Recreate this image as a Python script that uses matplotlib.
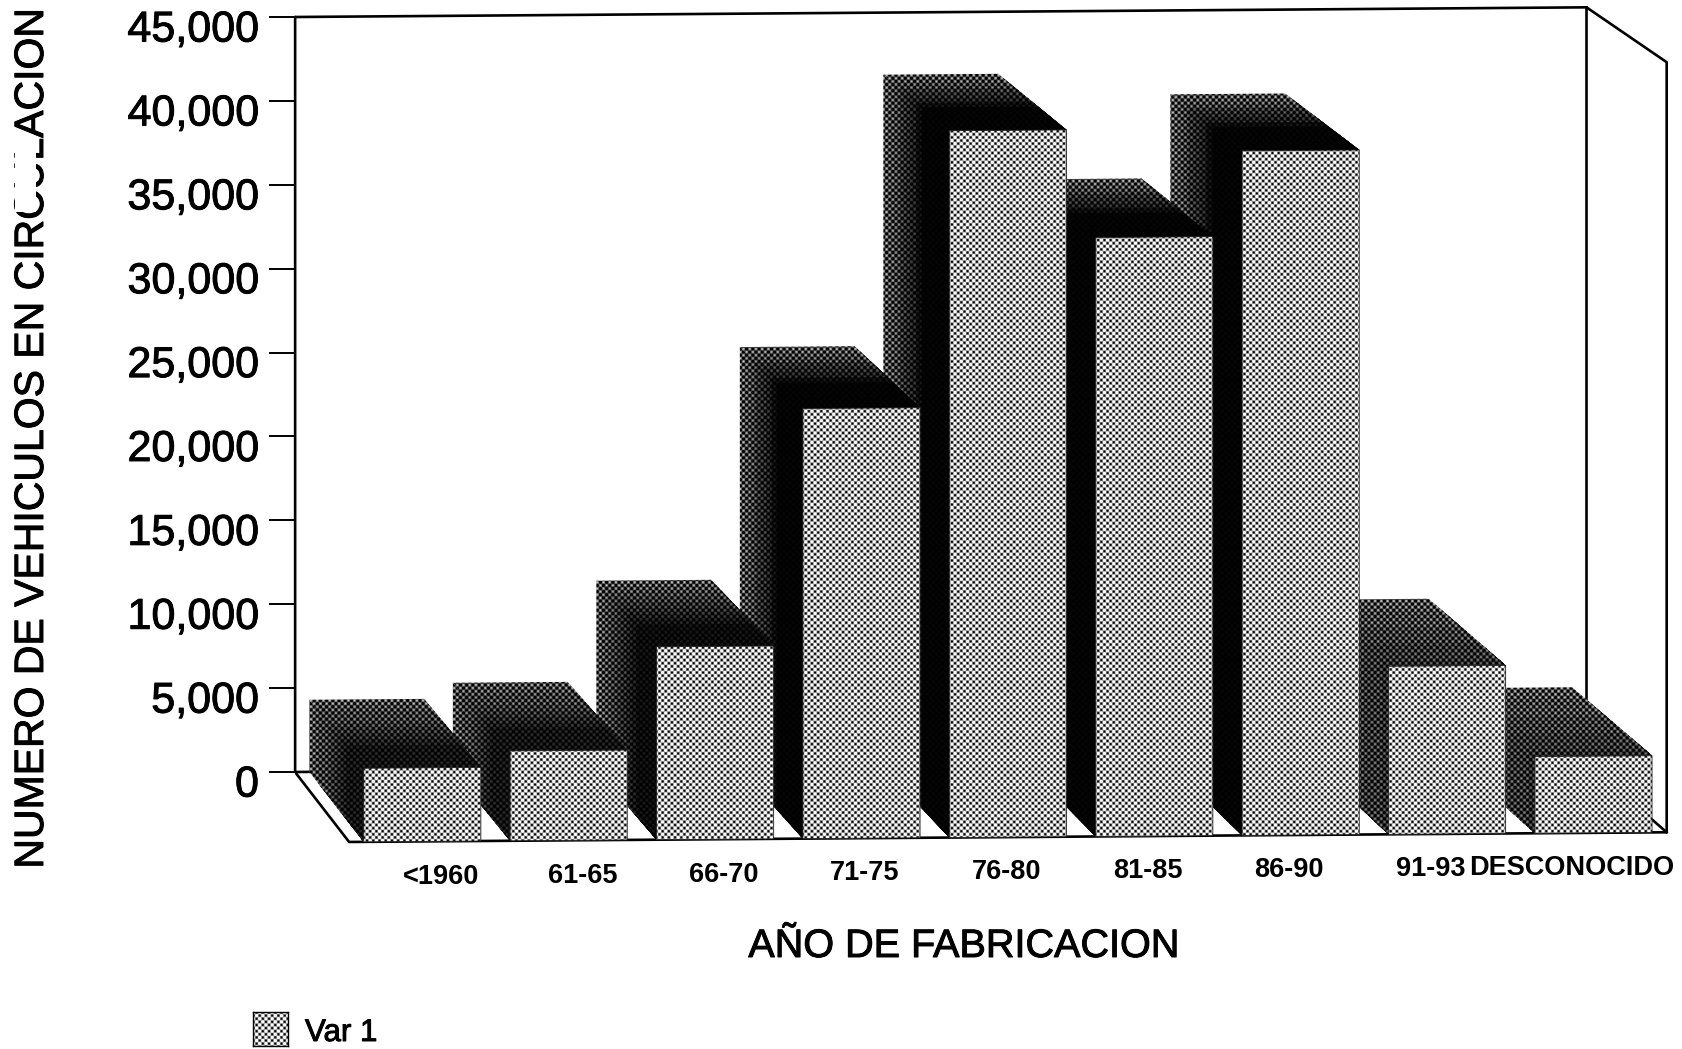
import numpy as np
import matplotlib
matplotlib.use('Agg')
import matplotlib.pyplot as plt
from matplotlib.patches import Polygon, Rectangle
from matplotlib.ticker import StrMethodFormatter
from matplotlib.transforms import ScaledTranslation
import matplotlib.patheffects as pe

# data
categories = ['<1960', '61-65', '66-70', '71-75', '76-80', '81-85', '86-90', '91-93', 'DESCONOCIDO']
vehicles = [4300, 5250, 11270, 25130, 41300, 35000, 40000, 9820, 4480]
y_ticks = [0, 5000, 10000, 15000, 20000, 25000, 30000, 35000, 40000, 45000]
y_label = 'NUMERO DE VEHICULOS EN CIRCULACION'
x_label = 'AÑO DE FABRICACION'
series_name = 'Var 1'

W, H = 1682, 1049
plt.rcParams['font.family'] = ['Liberation Sans', 'DejaVu Sans']

# fake 3d box, in pixels of the figure
wall_left = 295
zero_px = 772
top_px = 17
cat_px = 143.5
bottom_px = 900
units_per_px = 45000 / (zero_px - top_px)

# scanned text looks thicker than the plain font
thick = [pe.withStroke(linewidth=0.7, foreground='black')]

fig = plt.figure(figsize=(W / 100, H / 100), dpi=100, facecolor='white')
ax = fig.add_axes([wall_left / W, 1 - bottom_px / H, 1 - wall_left / W, bottom_px / H])
ax.set_xlim(0, (W - wall_left) / cat_px)
ax.set_ylim((zero_px - bottom_px) * units_per_px, zero_px * units_per_px)
ax.set_facecolor('white')


def proj(c, v, d):
    # category position, value, depth (0 back wall, 1 front edge)
    x = c * (1 + 0.0202 * d) + 0.377 * d
    y = v * (1 + 0.02 * d) - 4170 * d + 64 * c
    return x, y


def screen(mean, amp, w, h, pitch=4.4):
    yy, xx = np.mgrid[0:h, 0:w]
    u = (xx + yy) / np.sqrt(2)
    v = (xx - yy) / np.sqrt(2)
    s = (np.cos(2 * np.pi * u / pitch) + np.cos(2 * np.pi * v / pitch)) / 2
    return np.clip(mean + amp * s, 0, 1)


w_px, h_px = W - wall_left, bottom_px
light = screen(0.68, 0.75, w_px, h_px)
# dark screens, index 0 has the most dots and the last is nearly solid
n_shades = 10
shades = [screen(0.24 * (1 - k / (n_shades - 1)) + 0.01, 0.50 * (1 - k / (n_shades - 1)) + 0.02, w_px, h_px)
          for k in range(n_shades)]
extent = (ax.get_xlim()[0], ax.get_xlim()[1], ax.get_ylim()[0], ax.get_ylim()[1])
z = [2]


def face(points, tex, edge=False):
    z[0] += 1
    poly = Polygon(points, closed=True, transform=ax.transData)
    im = ax.imshow(tex, extent=extent, cmap='gray', vmin=0, vmax=1, aspect='auto',
                   interpolation='nearest', zorder=z[0])
    im.set_clip_path(poly)
    if edge:
        z[0] += 1
        ax.add_patch(Polygon(points, closed=True, fill=False, edgecolor='#222222', lw=0.6, zorder=z[0]))


# box lines
n = len(categories)
top = y_ticks[-1]
box = [
    [(0, 0, 0), (0, top, 0), (n, top, 0), (n, top, 1), (n, 0, 1), (0, 0, 1), (0, 0, 0)],
    [(n, top, 0), (n, 0, 0), (n, 0, 1)],
    [(0, 0, 0), (n, 0, 0)],
]
for path in box:
    pts = [proj(*p) for p in path]
    ax.plot([p[0] for p in pts], [p[1] for p in pts], color='black', lw=1.9, zorder=1)

# depth where each bar's dark faces stop showing dots, and how dark they get
ramp_end = [0.7, 0.7, 0.7, 0.6, 0.6, 0.6, 0.6, 1.0, 1.0]
ramp_max = [7, 7, 8, 9, 9, 9, 9, 4, 4]
edges = np.linspace(0, 1, 13)

# right to left, left bars hide the sides of the next ones
bar_w = 0.80
for i in range(n - 1, -1, -1):
    v = vehicles[i]
    cl = i + 0.10
    cr = cl + bar_w
    # each strip runs to the front, the next one paints over it, so no seams
    for d0 in edges[:-1]:
        k = min(int(round(ramp_max[i] * d0 / ramp_end[i])), ramp_max[i])
        face([proj(cl, 0, d0), proj(cl, v, d0), proj(cl, v, 1), proj(cl, 0, 1)], shades[k])
        face([proj(cl, v, d0), proj(cr, v, d0), proj(cr, v, 1), proj(cl, v, 1)], shades[k])
    face([proj(cl, 0, 1), proj(cl, v, 1), proj(cr, v, 1), proj(cr, 0, 1)], light, edge=True)

# value axis
for name in ['top', 'right', 'bottom']:
    ax.spines[name].set_visible(False)
ax.spines['left'].set_bounds(0, top)
ax.spines['left'].set_linewidth(1.7)
ax.set_yticks(y_ticks)
ax.yaxis.set_major_formatter(StrMethodFormatter('{x:,.0f}'))
ax.tick_params(axis='y', length=19, width=1.4, pad=7, labelsize=31)
shift = ScaledTranslation(0, -6.5 / 72, fig.dpi_scale_trans)
for lab in ax.get_yticklabels():
    lab.set_transform(lab.get_transform() + shift)
    lab.set_path_effects(thick)
ax.set_xticks([])

# category labels run a bit tighter than the bars
for i, name in enumerate(categories):
    x, y = proj(i * 0.985 + 1.017, 0, 0)
    y0 = proj(i, 0, 1)[1]
    ax.annotate(name, (x, y0), xytext=(0, -25), textcoords='offset points', ha='center', va='center',
                fontsize=19.5, fontweight='bold', zorder=200, annotation_clip=False)

fig.text(964 / W, 1 - 946 / H, x_label, ha='center', va='center', fontsize=28.5, path_effects=thick)
fig.text(32 / W, 1 - 438 / H, y_label, rotation=90, ha='center', va='center', fontsize=29.5,
         path_effects=thick)

# the scan lost part of the letters of CIRCULACION
fig.add_artist(Rectangle((15 / W, 1 - 212 / H), 21 / W, 62 / H, transform=fig.transFigure,
                         facecolor='white', edgecolor='none', zorder=50))

# legend
leg = fig.add_axes([253 / W, 1 - 1046 / H, 35 / W, 34 / H])
leg.imshow(screen(0.68, 0.75, 35, 34), cmap='gray', vmin=0, vmax=1, aspect='auto', interpolation='nearest')
leg.set_xticks([])
leg.set_yticks([])
for s in leg.spines.values():
    s.set_linewidth(1.0)
fig.text(305 / W, 1 - 1033 / H, series_name, ha='left', va='center', fontsize=22.5, path_effects=thick)

fig.savefig('out.png', dpi=100, facecolor='white')
